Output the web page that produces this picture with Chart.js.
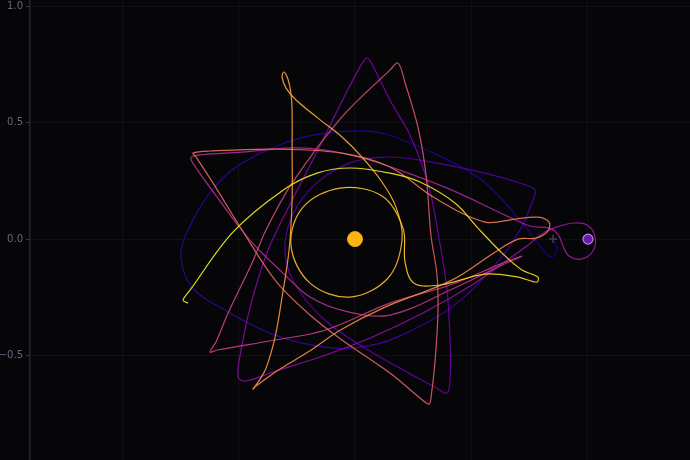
<!DOCTYPE html>
<html>
<head>
<meta charset="utf-8">
<script src="https://cdn.jsdelivr.net/npm/chart.js@4.4.1/dist/chart.umd.min.js"></script>
<style>
  html, body { margin: 0; padding: 0; background: #060609; }
  canvas { display: block; }
</style>
</head>
<body>
<canvas id="orbit_chart" width="690" height="460"></canvas>
<script>
// trajectory, split in laps (dark -> light in time)
var lap1X = [0.850,0.867,0.858,0.833,0.785,0.708,0.549,0.365,0.129,0.000,-0.236,-0.485,-0.614,-0.721,-0.747,-0.700,-0.558,-0.343,-0.129,0.021,0.172,0.416,0.601,0.708,0.764,0.773];
var lap1Y = [0.000,-0.039,-0.069,-0.073,-0.017,0.082,0.249,0.356,0.451,0.464,0.433,0.326,0.210,0.030,-0.077,-0.206,-0.305,-0.412,-0.464,-0.464,-0.425,-0.292,-0.112,0.039,0.167,0.210];

var lap2X = [0.734,0.558,0.279,0.129,-0.013,-0.150,-0.245,-0.296,-0.292,-0.236,-0.129,0.021,0.193,0.343,0.395,0.408,0.408,0.395,0.356,0.313,0.236,0.150,0.077,0.052,0.021,-0.064,-0.159,-0.270,-0.373,-0.442,-0.485,-0.502,-0.468,-0.343,-0.150,0.073,0.300,0.502,0.665,0.742,0.815];
var lap2Y = [0.232,0.283,0.339,0.352,0.330,0.253,0.146,0.017,-0.112,-0.227,-0.348,-0.455,-0.554,-0.635,-0.661,-0.597,-0.433,-0.219,0.030,0.240,0.446,0.597,0.742,0.777,0.738,0.575,0.382,0.167,-0.047,-0.262,-0.455,-0.592,-0.609,-0.567,-0.506,-0.421,-0.313,-0.197,-0.082,-0.026,0.030];

var lap3X = [0.880,0.940,0.996,1.030,1.021,0.970,0.918,0.893,0.871,0.833,0.751,0.644,0.416,0.193,0.030,-0.129,-0.270,-0.485,-0.665,-0.704,-0.687,-0.592,-0.451,-0.309,-0.193,-0.043,0.150,0.416,0.622,0.717];
var lap3Y = [0.056,0.069,0.060,0.013,-0.052,-0.086,-0.073,-0.030,0.021,0.047,0.056,0.103,0.210,0.296,0.348,0.382,0.391,0.373,0.361,0.348,0.313,0.180,-0.004,-0.146,-0.249,-0.309,-0.326,-0.215,-0.116,-0.073];

var lap4X = [0.644,0.408,0.150,-0.129,-0.343,-0.592,-0.622,-0.597,-0.545,-0.442,-0.382,-0.270,-0.056,0.150,0.185,0.215,0.270,0.305,0.326,0.352,0.356,0.343,0.326,0.318,0.279,0.150,-0.056,-0.202,-0.343,-0.485,-0.609,-0.682,-0.695,-0.622,-0.343,-0.056,0.150,0.343,0.558];
var lap4Y = [-0.099,-0.197,-0.275,-0.391,-0.433,-0.476,-0.485,-0.442,-0.318,-0.103,0.039,0.240,0.524,0.725,0.755,0.670,0.481,0.275,0.017,-0.155,-0.318,-0.532,-0.682,-0.708,-0.682,-0.575,-0.433,-0.318,-0.176,0.039,0.240,0.352,0.369,0.378,0.386,0.369,0.309,0.176,0.073];

var lap5X = [0.687,0.785,0.833,0.828,0.777,0.700,0.601,0.416,0.129,-0.064,-0.202,-0.343,-0.425,-0.438,-0.416,-0.382,-0.343,-0.313,-0.283,-0.270,-0.270,-0.270,-0.275,-0.288,-0.305,-0.313,-0.296,-0.253,-0.159,-0.056];
var lap5Y = [0.086,0.094,0.073,0.034,0.004,0.000,-0.056,-0.176,-0.292,-0.391,-0.485,-0.571,-0.631,-0.644,-0.614,-0.554,-0.421,-0.249,-0.047,0.167,0.382,0.554,0.627,0.687,0.717,0.695,0.648,0.597,0.519,0.438];

var lap6X = [0.030,0.116,0.176,0.202,0.142,-0.021,-0.193,-0.275,-0.223,-0.064,0.116,0.206,0.215,0.253,0.365,0.558,0.700,0.781,0.785,0.717,0.631,0.528,0.429,0.279,0.150,-0.021,-0.163,-0.309,-0.524,-0.708,-0.738,-0.717];
var lap6Y = [0.352,0.245,0.137,-0.004,-0.167,-0.249,-0.189,-0.026,0.137,0.219,0.185,0.047,-0.099,-0.189,-0.197,-0.150,-0.163,-0.185,-0.163,-0.133,-0.060,0.047,0.155,0.245,0.283,0.305,0.283,0.210,0.030,-0.219,-0.262,-0.275];

// share of time at the end of each lap (colour scale 0..1)
var lapTime = [0, 0.13, 0.33, 0.45, 0.66, 0.82, 1.0];

var bigBody = [0.0, 0.0];
var smallBody = [1.0, 0.0];
var startMark = [0.85, 0.0];

var yTicks = [-0.5, 0.0, 0.5, 1.0];

// plasma colours
var plasma = ["#0d0887","#41049d","#6a00a8","#8f0da4","#b12a90","#cc4778","#e16462","#f2844b","#fca636","#fcce25","#f0f921"];

function hexRgb(h) {
  return [parseInt(h.substr(1,2),16), parseInt(h.substr(3,2),16), parseInt(h.substr(5,2),16)];
}
function plasmaAt(t) {
  var s = Math.max(0, Math.min(1, t)) * 10;
  var i = Math.min(9, Math.floor(s));
  var f = s - i;
  var a = hexRgb(plasma[i]), b = hexRgb(plasma[i + 1]);
  var c = a.map(function(v, k) { return Math.round(v + (b[k] - v) * f); });
  return "rgba(" + c[0] + "," + c[1] + "," + c[2] + ",0.92)";
}

var laps = [[lap1X, lap1Y], [lap2X, lap2Y], [lap3X, lap3Y], [lap4X, lap4Y], [lap5X, lap5Y], [lap6X, lap6Y]];
var path = [];
var pathColors = [];
laps.forEach(function(lap, k) {
  var n = lap[0].length;
  lap[0].forEach(function(x, j) {
    var frac = k === 0 ? j / (n - 1) : (j + 1) / n;
    path.push({x: x, y: lap[1][j]});
    pathColors.push(plasmaAt(lapTime[k] + frac * (lapTime[k + 1] - lapTime[k])));
  });
});

var bgPlugin = {
  id: "bg",
  beforeDraw: function(chart) {
    var c = chart.ctx;
    c.save();
    c.fillStyle = "#060609";
    c.fillRect(0, 0, chart.width, chart.height);
    c.restore();
  }
};

var gridColor = "rgba(255,255,255,0.045)";

var ctx = document.getElementById("orbit_chart").getContext("2d");
var orbitChart = new Chart(ctx, {
  type: "scatter",
  data: {
    datasets: [
      {
        data: [{x: bigBody[0], y: bigBody[1]}],
        pointRadius: 7.5,
        backgroundColor: "#fdb515",
        borderColor: "#f2a30f",
        borderWidth: 1,
        order: 0
      },
      {
        data: [{x: smallBody[0], y: smallBody[1]}],
        pointRadius: 5,
        backgroundColor: "#6a1cb0",
        borderColor: "#b48ae2",
        borderWidth: 1.2,
        order: 0
      },
      {
        data: [{x: startMark[0], y: startMark[1]}],
        pointStyle: "cross",
        pointRadius: 4,
        borderColor: "#3e3e4a",
        borderWidth: 1.5,
        order: 0
      },
      {
        data: path,
        showLine: true,
        pointRadius: 0,
        borderWidth: 1.2,
        tension: 0.35,
        borderColor: pathColors[0],
        segment: {
          borderColor: function(c) { return pathColors[c.p0DataIndex]; }
        },
        order: 1
      }
    ]
  },
  options: {
    responsive: false,
    animation: false,
    layout: { padding: 0, autoPadding: false },
    plugins: { legend: { display: false }, tooltip: { enabled: false } },
    scales: {
      x: {
        type: "linear",
        min: -1.395,
        max: 1.438,
        ticks: { display: false, stepSize: 0.5, includeBounds: false },
        grid: { color: gridColor, drawTicks: false },
        border: { display: false },
        afterFit: function(s) { s.height = 0; s.paddingLeft = 0; s.paddingRight = 0; }
      },
      y: {
        type: "linear",
        min: -0.948,
        max: 1.026,
        afterBuildTicks: function(s) { s.ticks = yTicks.map(function(v) { return {value: v}; }); },
        ticks: {
          color: "#68687e",
          font: { family: "DejaVu Sans", size: 10 },
          padding: 3,
          callback: function(v) { return v.toFixed(1).replace("-", "\u2212"); }
        },
        grid: { color: gridColor, tickLength: 4, tickColor: "#383846" },
        border: { color: "#262633", width: 1.5 },
        afterFit: function(s) { s.width = 30; s.paddingTop = 0; s.paddingBottom = 0; }
      }
    }
  },
  plugins: [bgPlugin]
});
</script>
</body>
</html>
